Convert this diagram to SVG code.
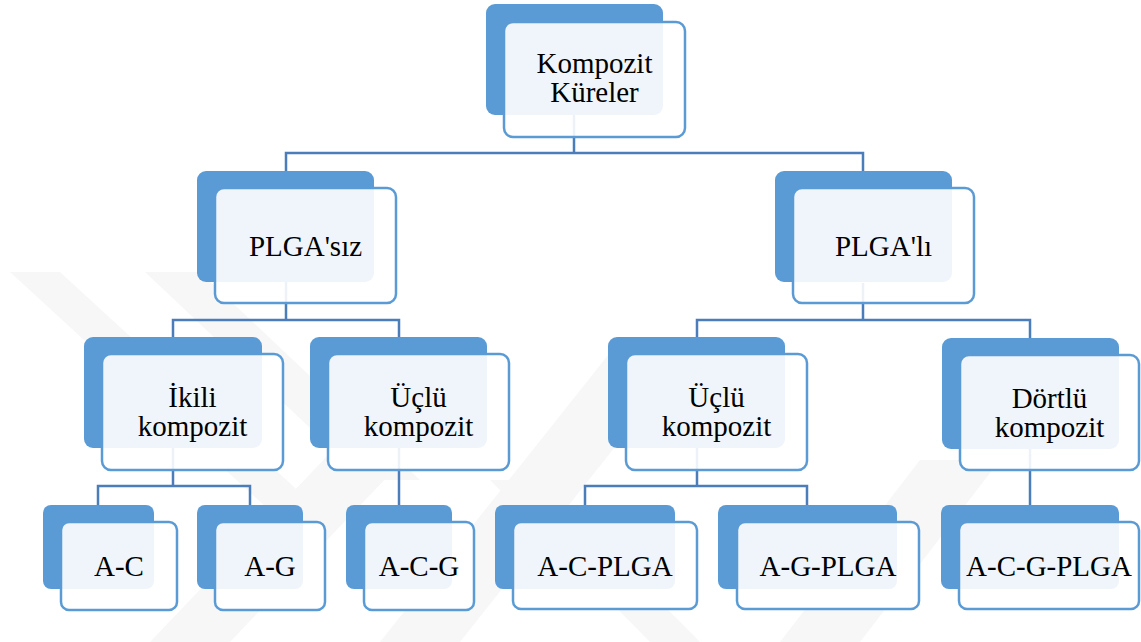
<svg xmlns="http://www.w3.org/2000/svg" width="1141" height="642" viewBox="0 0 1141 642">
<rect width="1141" height="642" fill="#ffffff"/>
<g id="watermark" fill="#f7f7f7">
<polygon points="10,272 60,272 330,520 280,520"/>
<polygon points="145,272 200,272 420,480 365,480"/>
<polygon points="150,642 230,642 470,390 390,390"/>
<polygon points="380,642 460,642 700,340 620,340"/>
<polygon points="490,480 540,480 700,642 650,642"/>
<polygon points="780,642 860,642 1000,460 920,460"/>
</g>
<g id="connectors" fill="none" stroke="#4a7dba" stroke-width="2.5">
<path d="M574 115 V153 M286 171 V153 H863 V171"/>
<path d="M286 282 V320 M173 337 V320 H399 V337"/>
<path d="M863 283 V320 M697 337 V320 H1030 V338"/>
<path d="M173 448 V486 M98 505 V486 H250 V505"/>
<path d="M399 448 V505"/>
<path d="M697 448 V486 M585 505 V486 H807 V505"/>
<path d="M1030 448 V505"/>
</g>
<g id="n-kompozit">
<rect x="486" y="4" width="177" height="111" rx="9" fill="#5b9bd5"/>
<rect x="504" y="22" width="181" height="115" rx="9" fill="#ffffff" fill-opacity="0.9" stroke="#5b9bd5" stroke-width="2.5"/>
<text x="594.5" y="73" font-family="Times New Roman" font-size="29" text-anchor="middle">Kompozit</text>
<text x="594.5" y="102" font-family="Times New Roman" font-size="29" text-anchor="middle">Küreler</text>
</g>
<g id="n-plgasiz">
<rect x="197" y="171" width="177" height="111" rx="9" fill="#5b9bd5"/>
<rect x="215" y="188" width="181" height="115" rx="9" fill="#ffffff" fill-opacity="0.9" stroke="#5b9bd5" stroke-width="2.5"/>
<text x="305.5" y="255.5" font-family="Times New Roman" font-size="29" text-anchor="middle">PLGA'sız</text>
</g>
<g id="n-plgali">
<rect x="775" y="171" width="177" height="111" rx="9" fill="#5b9bd5"/>
<rect x="793" y="188" width="181" height="115" rx="9" fill="#ffffff" fill-opacity="0.9" stroke="#5b9bd5" stroke-width="2.5"/>
<text x="883.5" y="255.5" font-family="Times New Roman" font-size="29" text-anchor="middle">PLGA'lı</text>
</g>
<g id="n-ikili">
<rect x="84" y="337" width="178" height="111" rx="9" fill="#5b9bd5"/>
<rect x="102" y="354" width="181" height="116" rx="9" fill="#ffffff" fill-opacity="0.9" stroke="#5b9bd5" stroke-width="2.5"/>
<text x="192.5" y="407" font-family="Times New Roman" font-size="29" text-anchor="middle">İkili</text>
<text x="192.5" y="436" font-family="Times New Roman" font-size="29" text-anchor="middle">kompozit</text>
</g>
<g id="n-uclu-1">
<rect x="310" y="337" width="177" height="111" rx="9" fill="#5b9bd5"/>
<rect x="328" y="354" width="181" height="116" rx="9" fill="#ffffff" fill-opacity="0.9" stroke="#5b9bd5" stroke-width="2.5"/>
<text x="418.5" y="407" font-family="Times New Roman" font-size="29" text-anchor="middle">Üçlü</text>
<text x="418.5" y="436" font-family="Times New Roman" font-size="29" text-anchor="middle">kompozit</text>
</g>
<g id="n-uclu-2">
<rect x="608" y="337" width="177" height="111" rx="9" fill="#5b9bd5"/>
<rect x="626" y="354" width="181" height="116" rx="9" fill="#ffffff" fill-opacity="0.9" stroke="#5b9bd5" stroke-width="2.5"/>
<text x="716.5" y="407" font-family="Times New Roman" font-size="29" text-anchor="middle">Üçlü</text>
<text x="716.5" y="436" font-family="Times New Roman" font-size="29" text-anchor="middle">kompozit</text>
</g>
<g id="n-dortlu">
<rect x="942" y="338" width="177" height="111" rx="9" fill="#5b9bd5"/>
<rect x="960" y="355" width="179" height="115" rx="9" fill="#ffffff" fill-opacity="0.9" stroke="#5b9bd5" stroke-width="2.5"/>
<text x="1049.5" y="408" font-family="Times New Roman" font-size="29" text-anchor="middle">Dörtlü</text>
<text x="1049.5" y="437" font-family="Times New Roman" font-size="29" text-anchor="middle">kompozit</text>
</g>
<g id="n-ac">
<rect x="43" y="505" width="111" height="84" rx="8" fill="#5b9bd5"/>
<rect x="61" y="522" width="116" height="88" rx="8" fill="#ffffff" fill-opacity="0.9" stroke="#5b9bd5" stroke-width="2.5"/>
<text x="119" y="576" font-family="Times New Roman" font-size="29" text-anchor="middle">A-C</text>
</g>
<g id="n-ag">
<rect x="197" y="505" width="106" height="84" rx="8" fill="#5b9bd5"/>
<rect x="215" y="522" width="110" height="88" rx="8" fill="#ffffff" fill-opacity="0.9" stroke="#5b9bd5" stroke-width="2.5"/>
<text x="270" y="576" font-family="Times New Roman" font-size="29" text-anchor="middle">A-G</text>
</g>
<g id="n-acg">
<rect x="346" y="505" width="106" height="84" rx="8" fill="#5b9bd5"/>
<rect x="364" y="522" width="110" height="88" rx="8" fill="#ffffff" fill-opacity="0.9" stroke="#5b9bd5" stroke-width="2.5"/>
<text x="419" y="576" font-family="Times New Roman" font-size="29" text-anchor="middle">A-C-G</text>
</g>
<g id="n-acplga">
<rect x="495" y="505" width="180" height="84" rx="8" fill="#5b9bd5"/>
<rect x="513" y="522" width="184" height="87" rx="8" fill="#ffffff" fill-opacity="0.9" stroke="#5b9bd5" stroke-width="2.5"/>
<text x="605" y="576" font-family="Times New Roman" font-size="29" text-anchor="middle">A-C-PLGA</text>
</g>
<g id="n-agplga">
<rect x="718" y="505" width="179" height="84" rx="8" fill="#5b9bd5"/>
<rect x="737" y="522" width="182" height="87" rx="8" fill="#ffffff" fill-opacity="0.9" stroke="#5b9bd5" stroke-width="2.5"/>
<text x="828" y="576" font-family="Times New Roman" font-size="29" text-anchor="middle">A-G-PLGA</text>
</g>
<g id="n-acgplga">
<rect x="941" y="505" width="178" height="84" rx="8" fill="#5b9bd5"/>
<rect x="959" y="522" width="180" height="87" rx="8" fill="#ffffff" fill-opacity="0.9" stroke="#5b9bd5" stroke-width="2.5"/>
<text x="1049" y="576" font-family="Times New Roman" font-size="29" text-anchor="middle">A-C-G-PLGA</text>
</g>
</svg>
